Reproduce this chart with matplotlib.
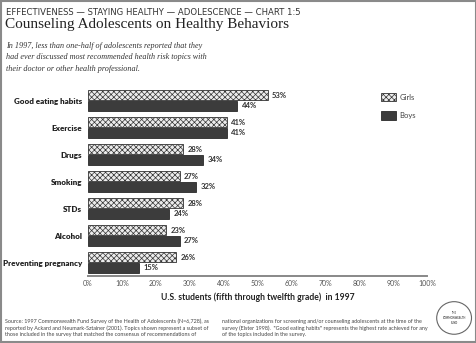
import matplotlib.pyplot as plt
import matplotlib.patches as mpatches
import numpy as np

plt.rcParams['hatch.color'] = '#8c8c8c'
plt.rcParams['hatch.linewidth'] = 0.5

# counseling rates by topic, percent of students
topics = ['Good eating habits', 'Exercise', 'Drugs', 'Smoking', 'STDs', 'Alcohol',
          'Preventing pregnancy']
girls = [53, 41, 28, 27, 28, 23, 26]
boys = [44, 41, 34, 32, 24, 27, 15]
ticks = [0, 10, 20, 30, 40, 50, 60, 70, 80, 90, 100]

fig = plt.figure(figsize=(4.77, 3.43), dpi=100)
fig.patch.set_facecolor('white')
ax = fig.add_axes([0.1845, 0.1953, 0.7107, 0.551])

y = np.arange(len(topics))
h = 0.37
g_bars = ax.barh(y - 0.2, girls, height=h, facecolor='#ececec', edgecolor='#333333',
                 linewidth=0.6, hatch='xxxxxx', label='Girls')
b_bars = ax.barh(y + 0.2, boys, height=h, facecolor='#3c3c3c', edgecolor='#2a2a2a',
                 linewidth=0.6, label='Boys')

for bars, vals in ((g_bars, girls), (b_bars, boys)):
    for bar, v in zip(bars, vals):
        ax.text(v + 1.3, bar.get_y() + bar.get_height() / 2, '%d%%' % v,
                va='center', ha='left', fontsize=5.5, fontweight='bold',
                family='Lato', color='#333333')

ax.set_xlim(0, 100)
ax.set_ylim(6.5, -0.5)
ax.set_yticks(y)
ax.set_yticklabels(topics, fontsize=5.8, fontweight='heavy', family='Lato', color='#222222')
ax.set_xticks(ticks)
ax.set_xticklabels(['%d%%' % t for t in ticks], fontsize=5, family='Lato', color='#555555')
ax.tick_params(length=0, pad=4)
ax.tick_params(axis='x', pad=3)
for s in ['top', 'right', 'left']:
    ax.spines[s].set_visible(False)
ax.spines['bottom'].set_color('#888888')
ax.spines['bottom'].set_linewidth(1.4)
ax.set_xlabel('U.S. students (fifth through twelfth grade)  in 1997', fontsize=6.2,
              fontweight='bold', family='Lato', color='#222222', labelpad=4)

leg = ax.legend(loc='upper left', bbox_to_anchor=(0.845, 1.005), frameon=False,
                prop={'family': 'Lato', 'size': 5.5}, handlelength=1.9,
                handleheight=1.3, labelspacing=1.3, handletextpad=0.5)
for t in leg.get_texts():
    t.set_color('#444444')

# headings
fig.text(0.013, 0.977, 'EFFECTIVENESS — STAYING HEALTHY — ADOLESCENCE — CHART 1:5',
         fontsize=6.1, family='DejaVu Sans', color='#333333', va='top')
fig.text(0.011, 0.948, 'Counseling Adolescents on Healthy Behaviors', fontsize=11,
         family='Liberation Serif', color='#222222', va='top')
fig.text(0.013, 0.878, 'In 1997, less than one-half of adolescents reported that they\n'
         'had ever discussed most recommended health risk topics with\n'
         'their doctor or other health professional.', fontsize=5.9, style='italic',
         family='Liberation Serif', color='#333333', va='top', linespacing=1.6)

# source notes
fig.text(0.011, 0.044, 'Source: 1997 Commonwealth Fund Survey of the Health of Adolescents (N=6,728), as\n'
         'reported by Ackard and Neumark-Sztainer (2001). Topics shown represent a subset of\n'
         'those included in the survey that matched the consensus of recommendations of',
         fontsize=3.9, family='Lato', color='#444444', va='center', linespacing=1.3)
fig.text(0.465, 0.044, 'national organizations for screening and/or counseling adolescents at the time of the\n'
         'survey (Elster 1998).  "Good eating habits" represents the highest rate achieved for any\n'
         'of the topics included in the survey.',
         fontsize=3.9, family='Lato', color='#444444', va='center', linespacing=1.3)

# fund logo
logo = mpatches.Ellipse((0.952, 0.073), 0.073, 0.095, transform=fig.transFigure,
                        facecolor='white', edgecolor='#666666', linewidth=0.8)
fig.patches.append(logo)
fig.text(0.952, 0.073, 'THE\nCOMMONWEALTH\nFUND', fontsize=1.8, family='Lato',
         fontweight='bold', color='#444444', ha='center', va='center', linespacing=1.3)

# outer frame
frame = mpatches.Rectangle((0.002, 0.003), 0.995, 0.994, transform=fig.transFigure,
                           fill=False, edgecolor='#8a8a8a', linewidth=1.5)
fig.patches.append(frame)

fig.savefig('out.png', dpi=100)
